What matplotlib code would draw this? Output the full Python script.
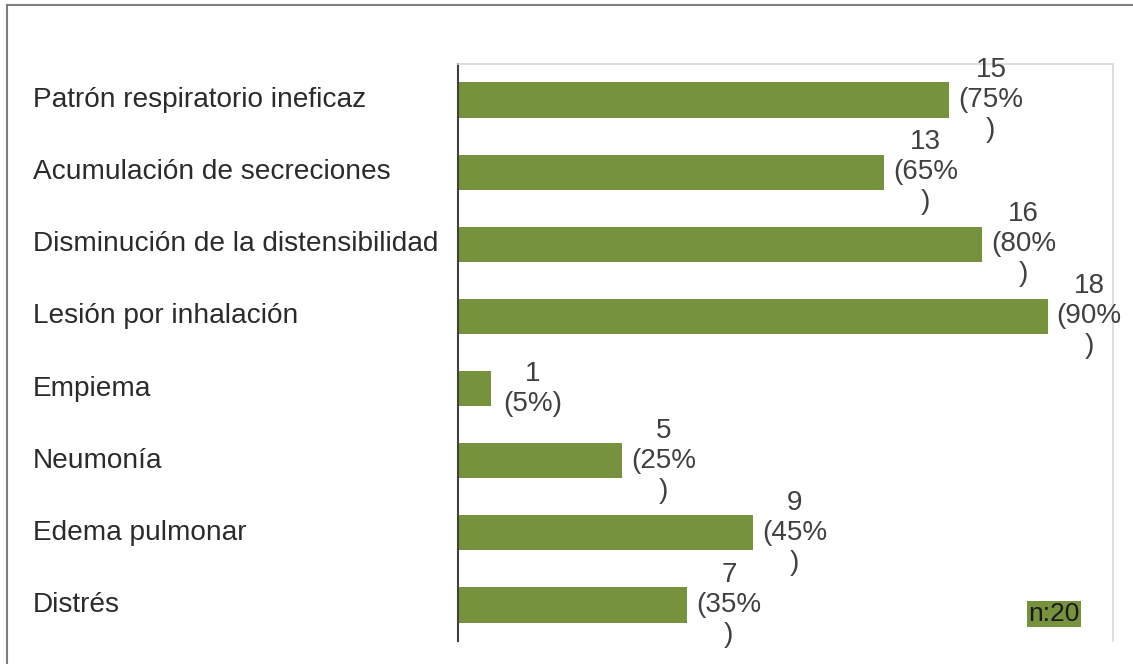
import matplotlib.pyplot as plt
from matplotlib.lines import Line2D
from matplotlib.transforms import blended_transform_factory

plt.rcParams['font.family'] = ['Liberation Sans', 'DejaVu Sans']

categorias = ['Patrón respiratorio ineficaz', 'Acumulación de secreciones',
              'Disminución de la distensibilidad', 'Lesión por inhalación',
              'Empiema', 'Neumonía', 'Edema pulmonar', 'Distrés']
casos = [15, 13, 16, 18, 1, 5, 9, 7]
porcentajes = [75, 65, 80, 90, 5, 25, 45, 35]
total = 20

verde = '#76923c'

fig = plt.figure(figsize=(11.33, 6.64), dpi=100)
ax = fig.add_axes([458 / 1133, 1 - 641 / 664, (1113 - 458) / 1133, (641 - 64) / 664])

y = list(range(len(categorias)))
ax.barh(y, casos, height=0.49, color=verde, zorder=2)
ax.set_xlim(0, 20)
ax.set_ylim(len(categorias) - 0.5, -0.5)

ax.set_xticks([])
ax.set_yticks([])
for lado in ['top', 'right']:
    ax.spines[lado].set_color('#d9d9d9')
    ax.spines[lado].set_linewidth(1.2)
ax.spines['bottom'].set_visible(False)
ax.spines['left'].set_color('#404040')
ax.spines['left'].set_linewidth(1.5)

# nombres de las categorías alineados a la izquierda
trans = blended_transform_factory(fig.transFigure, ax.transData)
for yi, nombre in zip(y, categorias):
    ax.text(33 / 1133, yi, nombre, transform=trans, ha='left', va='center',
            fontsize=20.2, color='#2b2b2b')

# etiquetas de valor con el salto de línea del original
for yi, n, p in zip(y, casos, porcentajes):
    if p < 10:
        etiqueta = f'{n}\n({p}%)'
    else:
        etiqueta = f'{n}\n({p}%\n)'
    ax.annotate(etiqueta, xy=(n, yi), xytext=(30, 0), textcoords='offset points',
                ha='center', va='center', fontsize=20, color='#404040',
                linespacing=1.2)

ax.text(0.91, 0.047, 'n:' + str(total), transform=ax.transAxes, ha='center',
        va='center', fontsize=19, color='#1a1a1a',
        bbox=dict(boxstyle='square,pad=0.05', facecolor=verde, edgecolor='none'))

# marco exterior (solo se ven los bordes superior e izquierdo)
fig.add_artist(Line2D([7 / 1133, 1], [1 - 5 / 664, 1 - 5 / 664], transform=fig.transFigure,
                      color='#7f7f7f', linewidth=1.5))
fig.add_artist(Line2D([7 / 1133, 7 / 1133], [0, 1 - 5 / 664], transform=fig.transFigure,
                      color='#7f7f7f', linewidth=1.5))

fig.savefig('out.png', dpi=100)
